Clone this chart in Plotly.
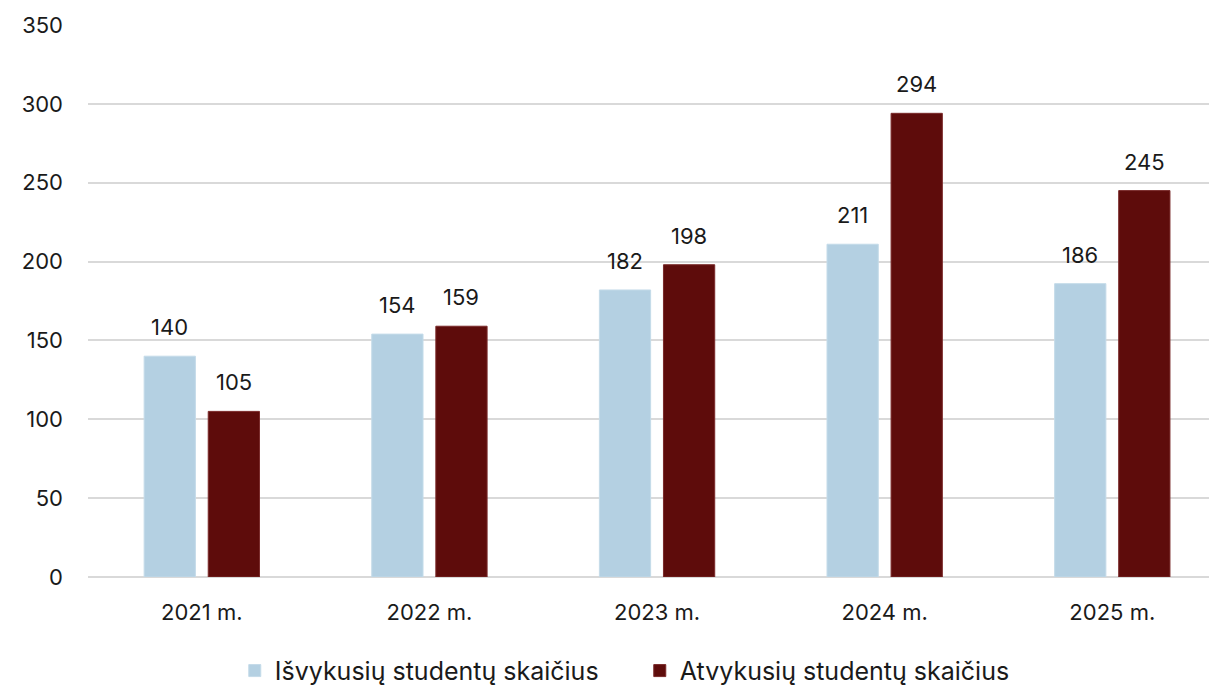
import plotly.graph_objects as go

categories = ["2021 m.", "2022 m.", "2023 m.", "2024 m.", "2025 m."]
isvykusiu = [140, 154, 182, 211, 186]
atvykusiu = [105, 159, 198, 294, 245]
series_names = ["Išvykusių studentų skaičius", "Atvykusių studentų skaičius"]
y_ticks = [0, 50, 100, 150, 200, 250, 300, 350]

FONT = "Inter, Lato, Open Sans, sans-serif"
FS = 22
TXT = "#1a1a1a"

BARGAP = 0.437
GROUPGAP = 0.2

fig = go.Figure()
fig.add_trace(go.Bar(
    x=categories, y=isvykusiu, name=series_names[0],
    marker=dict(color="#b4d0e2", line=dict(color="#c4dbe9", width=1)),
))
fig.add_trace(go.Bar(
    x=categories, y=atvykusiu, name=series_names[1],
    marker=dict(color="#5e0c0b", line=dict(color="#7a2a2a", width=1)),
))

# value labels above bars, placed at bar centres (half a bar slot from category centre)
half_slot = (1 - BARGAP) / 4
for vals, off in ((isvykusiu, -half_slot), (atvykusiu, half_slot)):
    for i, v in enumerate(vals):
        fig.add_annotation(
            x=i + off, y=v, xref="x", yref="y", text=str(v),
            showarrow=False, yanchor="bottom", yshift=14,
            font=dict(size=FS, family=FONT, color=TXT),
        )

fig.update_layout(
    width=1209, height=681,
    margin=dict(l=80, r=0, t=17, b=112, autoexpand=False),
    paper_bgcolor="white", plot_bgcolor="white",
    barmode="group", bargap=BARGAP, bargroupgap=GROUPGAP,
    font=dict(family=FONT, size=FS, color=TXT),
    legend=dict(orientation="h", x=0.13, xanchor="left", y=-0.17, yanchor="middle",
                font=dict(size=25, family=FONT, color=TXT),
                itemwidth=30, traceorder="normal", entrywidth=360),
    yaxis=dict(range=[0, 350], tickvals=y_ticks, showgrid=True,
               gridcolor="#d9d9d9", gridwidth=2, zeroline=True,
               zerolinecolor="#d9d9d9", zerolinewidth=2, automargin=False,
               tickfont=dict(size=FS, family=FONT, color=TXT),
               ticks="", ticklabelstandoff=24),
    xaxis=dict(tickfont=dict(size=FS, family=FONT, color=TXT), automargin=False,
               range=[-0.5, 4.46],
               ticks="", showline=False, ticklabelstandoff=20),
)

fig.write_html("out.html")
